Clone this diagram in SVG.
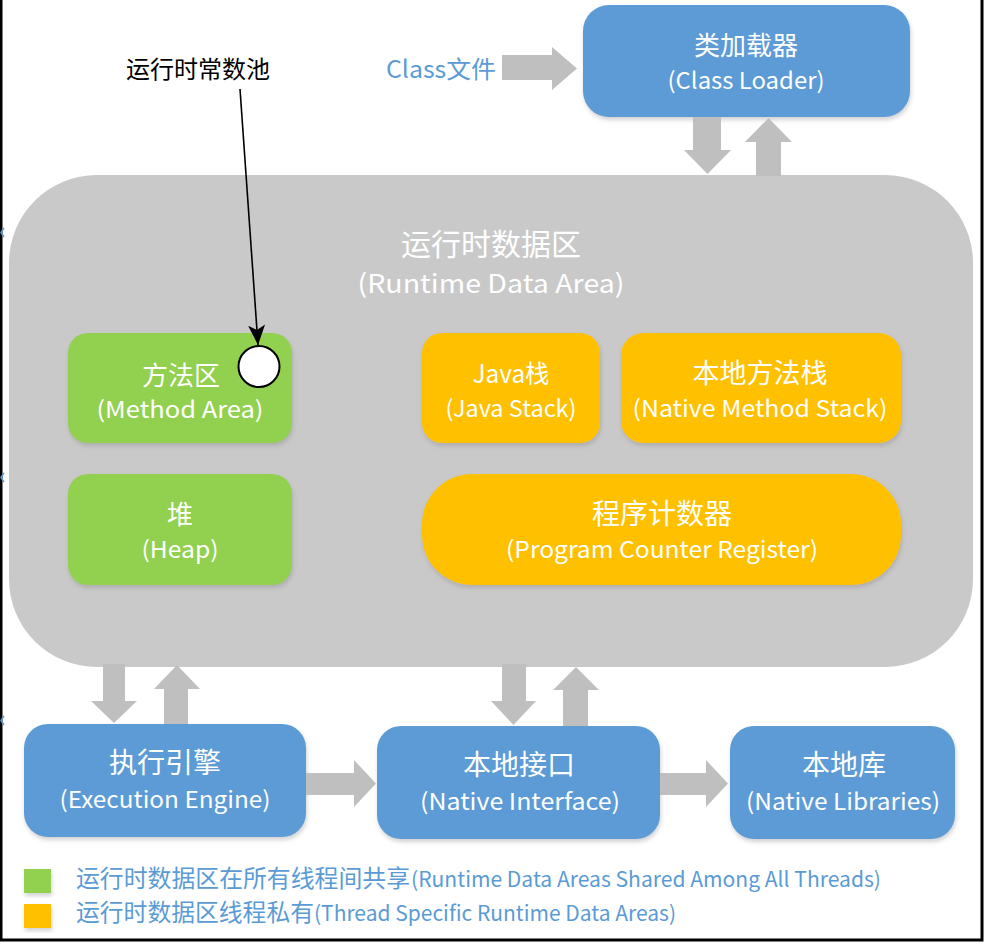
<svg xmlns="http://www.w3.org/2000/svg" width="984" height="946" viewBox="0 0 984 946">
<style>
text{font-family:"Noto Sans CJK SC","Noto Sans",sans-serif;text-anchor:middle}
.w{fill:#FFFFFF}
.zh{font-size:26px}
.en{font-size:23px}
.blue{fill:#5B9BD5}
.green{fill:#92D050}
.orange{fill:#FFC000}
.arr{fill:#BFBFBF}
.leg{fill:#5B9BD5;text-anchor:start;font-size:21px}
</style>
<defs>
<filter id="sh" x="-10%" y="-10%" width="125%" height="130%">
<feDropShadow dx="1" dy="3" stdDeviation="2" flood-color="#808080" flood-opacity="0.35"/>
</filter>
<marker id="ah2" viewBox="0 0 20 17" refX="20" refY="8.5" markerWidth="20" markerHeight="17" markerUnits="userSpaceOnUse" orient="auto">
<path d="M0,0 L20,8.5 L0,17 L5,8.5 Z" fill="#000"/>
</marker>
</defs>
<rect x="0" y="0" width="984" height="946" fill="#FFFFFF"/>
<!-- frame -->
<path d="M1,0 V940 H982 V0" fill="none" stroke="#000" stroke-width="3"/>
<g fill="none" stroke="#5B9BD5" stroke-width="1.5">
<path d="M4,228 L1,232.5 L4,237"/>
<path d="M4,473 L1,477.5 L4,482"/>
<path d="M4,716 L1,720.5 L4,725"/>
</g>

<g id="class-file">
<text x="441" y="78" style="font-size:24px;fill:#5B9BD5" textLength="110" lengthAdjust="spacingAndGlyphs">Class文件</text>
</g>

<g id="class-loader">
<rect x="583" y="5" width="327" height="112" rx="26" class="blue" filter="url(#sh)"/>
<text x="746" y="55" class="w zh">类加载器</text>
<text x="746" y="89" class="w en" textLength="157" lengthAdjust="spacingAndGlyphs">(Class Loader)</text>
</g>

<g id="runtime-data-area">
<rect x="9" y="175" width="964" height="492" rx="88" fill="#C9C9C9"/>
<text x="491" y="255" class="w" style="font-size:30px">运行时数据区</text>
<text x="491" y="293" class="w" style="font-size:26px" textLength="267" lengthAdjust="spacingAndGlyphs">(Runtime Data Area)</text>
</g>

<g id="method-area">
<rect x="68" y="333" width="224" height="110" rx="20" class="green" filter="url(#sh)"/>
<text x="181" y="385" class="w zh">方法区</text>
<text x="180" y="418" class="w en" textLength="167" lengthAdjust="spacingAndGlyphs">(Method Area)</text>
</g>

<g id="heap">
<rect x="68" y="474" width="224" height="111" rx="20" class="green" filter="url(#sh)"/>
<text x="180" y="524" class="w zh">堆</text>
<text x="180" y="558" class="w en" textLength="77" lengthAdjust="spacingAndGlyphs">(Heap)</text>
</g>

<g id="java-stack">
<rect x="422" y="333" width="178" height="110" rx="20" class="orange" filter="url(#sh)"/>
<text x="511" y="383" class="w" style="font-size:25px" textLength="77" lengthAdjust="spacingAndGlyphs">Java栈</text>
<text x="511" y="417" class="w en" textLength="131" lengthAdjust="spacingAndGlyphs">(Java Stack)</text>
</g>

<g id="native-method-stack">
<rect x="621" y="333" width="280" height="110" rx="22" class="orange" filter="url(#sh)"/>
<text x="760" y="383" class="w" style="font-size:27px">本地方法栈</text>
<text x="760" y="417" class="w en" textLength="255" lengthAdjust="spacingAndGlyphs">(Native Method Stack)</text>
</g>

<g id="program-counter">
<rect x="422" y="474" width="479" height="111" rx="50" class="orange" filter="url(#sh)"/>
<text x="662" y="524" class="w" style="font-size:28px">程序计数器</text>
<text x="662" y="558" class="w en" textLength="312" lengthAdjust="spacingAndGlyphs">(Program Counter Register)</text>
</g>

<g id="execution-engine">
<rect x="24" y="724" width="282" height="113" rx="24" class="blue" filter="url(#sh)"/>
<text x="165" y="773" class="w" style="font-size:28px">执行引擎</text>
<text x="165" y="808" class="w en" textLength="211" lengthAdjust="spacingAndGlyphs">(Execution Engine)</text>
</g>

<g id="native-interface">
<rect x="377" y="726" width="283" height="113" rx="24" class="blue" filter="url(#sh)"/>
<text x="519" y="775" class="w" style="font-size:28px">本地接口</text>
<text x="520" y="810" class="w en" textLength="200" lengthAdjust="spacingAndGlyphs">(Native Interface)</text>
</g>

<g id="native-libraries">
<rect x="730" y="726" width="225" height="113" rx="24" class="blue" filter="url(#sh)"/>
<text x="844" y="775" class="w" style="font-size:28px">本地库</text>
<text x="843" y="810" class="w en" textLength="194" lengthAdjust="spacingAndGlyphs">(Native Libraries)</text>
</g>

<g id="legend">
<rect x="24" y="869" width="27" height="24" class="green" filter="url(#sh)"/>
<rect x="24" y="904" width="27" height="24" class="orange" filter="url(#sh)"/>
<text x="76" y="887" class="leg" style="font-size:24px" textLength="334" lengthAdjust="spacingAndGlyphs">运行时数据区在所有线程间共享</text>
<text x="411" y="887" class="leg" textLength="470" lengthAdjust="spacingAndGlyphs">(Runtime Data Areas Shared Among All Threads)</text>
<text x="76" y="921" class="leg" style="font-size:24px" textLength="238" lengthAdjust="spacingAndGlyphs">运行时数据区线程私有</text>
<text x="314" y="921" class="leg" textLength="362" lengthAdjust="spacingAndGlyphs">(Thread Specific Runtime Data Areas)</text>
</g>

<g id="connectors">
<polygon class="arr" points="502,55 552,55 552,47 577,68.5 552,90 552,80 502,80"/>
<polygon class="arr" points="693,117 721,117 721,150 731,150 707.5,174 684,150 693,150"/>
<polygon class="arr" points="756,176 781,176 781,142 792,142 768.5,118 745,142 756,142"/>
<polygon class="arr" points="103,664 125,664 125,701 137,701 114,723 91,701 103,701"/>
<polygon class="arr" points="164,724 188,724 188,689 200,689 177,665 154,689 164,689"/>
<polygon class="arr" points="502,664 526,664 526,701 536,701 513.5,725 491,701 502,701"/>
<polygon class="arr" points="563,726 588,726 588,690 599,690 576,667 553,690 563,690"/>
<polygon class="arr" points="306,773 354,773 354,760 376,783.5 354,807 354,795 306,795"/>
<polygon class="arr" points="660,773 706,773 706,760 728,783.5 706,807 706,795 660,795"/>
<line x1="240" y1="89" x2="258" y2="345" stroke="#000" stroke-width="1.6" marker-end="url(#ah2)"/>
</g>

<g id="constant-pool">
<circle cx="259" cy="366.5" r="20.5" fill="#FFFFFF" stroke="#000" stroke-width="2"/>
<text x="198" y="78" style="font-size:24px;fill:#000">运行时常数池</text>
</g>
</svg>
